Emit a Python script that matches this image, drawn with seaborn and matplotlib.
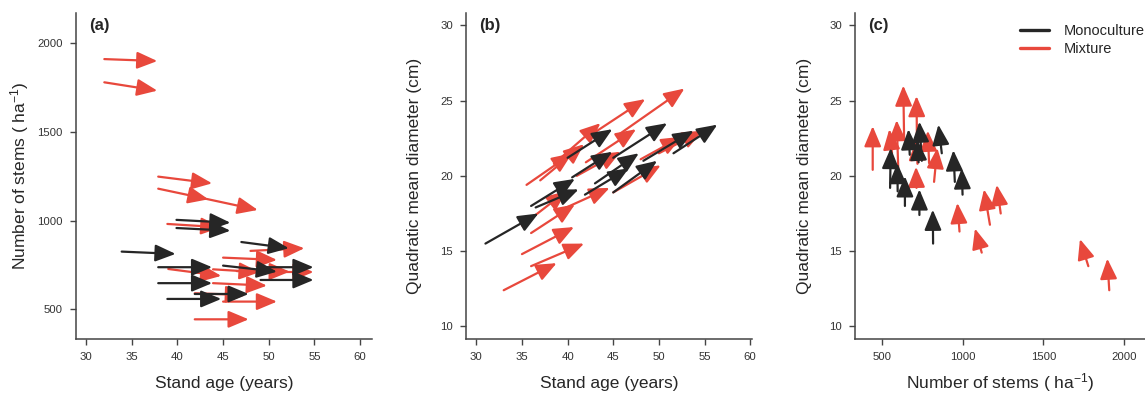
# Stand dynamics: arrows from first to second census
import matplotlib
matplotlib.use("Agg")
import matplotlib.pyplot as plt
import seaborn as sns
from matplotlib.lines import Line2D

# Colours for the two stand types
colors = {"Monoculture": "#262626", "Mixture": "#E8483C"}

# Panel (a): stand age (years) vs number of stems (ha-1)
a_age0 = [32.0, 32.0, 37.9, 37.9, 43.2, 38.9, 48.0, 45.0, 39.0, 43.9, 46.5, 49.5, 43.9, 41.9, 45.0, 41.9,
          39.9, 39.9, 47.0, 33.9, 37.9, 45.0, 49.2, 49.1, 37.9, 41.9, 38.9]
a_age1 = [37.8, 37.8, 43.8, 43.4, 48.8, 44.8, 53.9, 50.9, 44.8, 49.0, 52.3, 54.9, 49.8, 47.5, 50.9, 47.8,
          45.8, 45.8, 52.2, 39.8, 43.8, 50.9, 54.9, 54.9, 43.8, 47.8, 44.8]
a_n0 = [1911, 1780, 1248, 1180, 1122, 981, 829, 791, 727, 725, 715, 710, 647, 590, 543, 443,
        1004, 958, 879, 825, 737, 746, 737, 665, 647, 586, 558]
a_n1 = [1900, 1733, 1210, 1120, 1060, 962, 844, 778, 688, 709, 712, 710, 633, 580, 543, 443,
        988, 943, 844, 812, 737, 712, 737, 665, 647, 586, 558]
a_grp = ["Mixture"] * 16 + ["Monoculture"] * 11

# Panel (b): stand age (years) vs quadratic mean diameter (cm)
b_age0 = [33.0, 36.0, 35.0, 36.0, 35.0, 35.5, 37.0, 38.5, 42.5, 45.5, 42.0, 41.0, 45.0, 48.0, 50.0, 39.5,
          31.0, 36.0, 36.5, 40.0, 45.0, 40.5, 43.0, 41.9, 45.0, 48.3, 51.6]
b_age1 = [38.8, 41.8, 40.7, 40.8, 39.9, 40.5, 41.8, 43.6, 48.5, 52.8, 47.5, 45.8, 50.2, 52.5, 54.8, 44.6,
          36.8, 40.8, 41.2, 44.9, 50.9, 44.9, 47.8, 46.7, 49.8, 53.8, 56.4]
b_d0 = [12.4, 14.0, 14.8, 16.2, 16.7, 19.4, 19.7, 20.8, 22.7, 22.7, 20.9, 20.0, 18.9, 21.1, 21.5, 17.8,
        15.5, 18.0, 17.9, 21.2, 21.2, 19.9, 19.5, 18.75, 18.9, 21.0, 21.5]
b_d1 = [14.2, 15.5, 16.6, 18.1, 19.0, 21.5, 22.1, 23.5, 25.1, 25.8, 23.1, 21.6, 20.7, 22.6, 23.0, 19.2,
        17.5, 19.8, 19.1, 23.1, 23.5, 21.6, 21.5, 20.5, 21.0, 23.0, 23.4]
b_grp = ["Mixture"] * 16 + ["Monoculture"] * 11

# Panel (c): number of stems (ha-1) vs quadratic mean diameter (cm)
c_n0 = [1909, 1779, 1235, 1168, 1117, 979, 821, 790, 440, 635, 715, 712, 718, 560, 600,
        548, 595, 640, 730, 815, 670, 745, 869, 950, 998, 725]
c_n1 = [1897, 1727, 1210, 1131, 1075, 966, 841, 782, 440, 630, 712, 709, 709, 543, 589,
        552, 593, 640, 730, 813, 662, 730, 848, 941, 993, 718]
c_d0 = [12.4, 14.0, 17.5, 16.75, 14.9, 16.3, 19.6, 20.85, 20.4, 22.4, 22.0, 19.2, 20.8, 21.5, 20.0,
        19.2, 18.97, 18.0, 17.4, 15.5, 21.4, 21.0, 21.5, 19.6, 18.75, 20.9]
c_d1 = [14.5, 15.8, 19.4, 19.1, 16.5, 18.2, 21.85, 23.0, 23.3, 26.0, 25.3, 20.6, 22.4, 23.1, 23.7,
        21.85, 20.85, 19.97, 19.1, 17.75, 23.1, 23.6, 23.4, 21.7, 20.5, 22.4]
c_grp = ["Mixture"] * 15 + ["Monoculture"] * 11

sns.set_style("ticks")
plt.rcParams["font.family"] = ["Liberation Sans", "DejaVu Sans"]
plt.rcParams["mathtext.default"] = "regular"


def draw_arrows(ax, x0, y0, x1, y1, grp):
    for xa, ya, xb, yb, g in zip(x0, y0, x1, y1, grp):
        ax.annotate("", xy=(xb, yb), xytext=(xa, ya),
                    arrowprops=dict(arrowstyle="-|>,head_length=0.62,head_width=0.26",
                                    color=colors[g], lw=1.6, shrinkA=0, shrinkB=0,
                                    mutation_scale=20))


def style_axes(ax, letter):
    sns.despine(ax=ax)
    for s in ["left", "bottom"]:
        ax.spines[s].set_color("#444444")
        ax.spines[s].set_linewidth(1.1)
    ax.tick_params(direction="out", length=4.5, width=1, color="#444444",
                   labelsize=8.2, labelcolor="#333333", pad=5)
    ax.text(0.045, 0.985, letter, transform=ax.transAxes, fontsize=12,
            fontweight="bold", va="top", ha="left")


W, H = 1145, 394
fig = plt.figure(figsize=(W / 100, H / 100), dpi=100)
ax_a = fig.add_axes([76 / W, 55 / H, 296 / W, 326 / H])
ax_b = fig.add_axes([466 / W, 55 / H, 286 / W, 326 / H])
ax_c = fig.add_axes([855 / W, 55 / H, 290 / W, 326 / H])

# (a)
draw_arrows(ax_a, a_age0, a_n0, a_age1, a_n1, a_grp)
ax_a.set_xlim(28.9, 61.3)
ax_a.set_ylim(332, 2171)
ax_a.set_xticks(range(30, 61, 5))
ax_a.set_yticks([500, 1000, 1500, 2000])
ax_a.set_xlabel("Stand age (years)", fontsize=12.5)
ax_a.set_ylabel("Number of stems ( ha$^{-1}$)", fontsize=12.5)
ax_a.xaxis.set_label_coords(0.5, -0.112)
ax_a.yaxis.set_label_coords(-0.152, 0.5)
style_axes(ax_a, "(a)")

# (b)
draw_arrows(ax_b, b_age0, b_d0, b_age1, b_d1, b_grp)
ax_b.set_xlim(28.87, 60.2)
ax_b.set_ylim(9.16, 30.82)
ax_b.set_xticks(range(30, 61, 5))
ax_b.set_yticks(range(10, 31, 5))
ax_b.set_xlabel("Stand age (years)", fontsize=12.5)
ax_b.set_ylabel("Quadratic mean diameter (cm)", fontsize=12.5)
ax_b.xaxis.set_label_coords(0.5, -0.112)
ax_b.yaxis.set_label_coords(-0.154, 0.5)
style_axes(ax_b, "(b)")

# (c)
draw_arrows(ax_c, c_n0, c_d0, c_n1, c_d1, c_grp)
ax_c.set_xlim(330, 2131)
ax_c.set_ylim(9.16, 30.82)
ax_c.set_xticks([500, 1000, 1500, 2000])
ax_c.set_yticks(range(10, 31, 5))
ax_c.set_xlabel("Number of stems ( ha$^{-1}$)", fontsize=12.5)
ax_c.set_ylabel("Quadratic mean diameter (cm)", fontsize=12.5)
ax_c.xaxis.set_label_coords(0.5, -0.1)
ax_c.yaxis.set_label_coords(-0.148, 0.5)
style_axes(ax_c, "(c)")

handles = [Line2D([], [], color=colors[k], lw=2.4) for k in ["Monoculture", "Mixture"]]
fig.legend(handles, ["Monoculture", "Mixture"], loc="upper left",
           bbox_to_anchor=(1020 / W, 1 - 24 / H), bbox_transform=fig.transFigure,
           frameon=False, fontsize=10.5, handlelength=2.0, handletextpad=1.0,
           labelspacing=0.3, borderpad=0, borderaxespad=0)

fig.savefig("out.png", dpi=100)
